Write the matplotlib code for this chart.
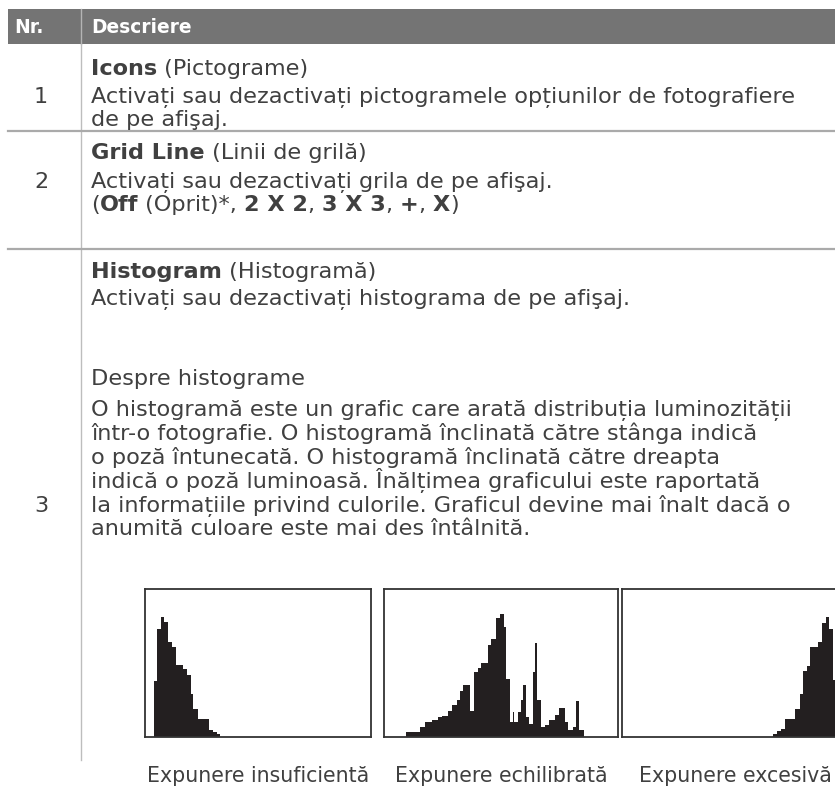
import matplotlib
matplotlib.use("Agg")
import matplotlib.pyplot as plt
from matplotlib.lines import Line2D
from matplotlib.patches import Rectangle

# ---------------- data ----------------
header_labels = ["Nr.", "Descriere"]
row_numbers = ["1", "2", "3"]

row1_lines = [
    [("Icons", True), (" (Pictograme)", False)],
    [("Activați sau dezactivați pictogramele opțiunilor de fotografiere", False)],
    [("de pe afişaj.", False)],
]
row2_lines = [
    [("Grid Line", True), (" (Linii de grilă)", False)],
    [("Activați sau dezactivați grila de pe afişaj.", False)],
    [("(", False), ("Off", True), (" (Oprit)*, ", False), ("2 X 2", True), (", ", False),
     ("3 X 3", True), (", ", False), ("+", True), (", ", False), ("X", True), (")", False)],
]
row3_lines = [
    [("Histogram", True), (" (Histogramă)", False)],
    [("Activați sau dezactivați histograma de pe afişaj.", False)],
    [("Despre histograme", False)],
    [("O histogramă este un grafic care arată distribuția luminozității", False)],
    [("într-o fotografie. O histogramă înclinată către stânga indică", False)],
    [("o poză întunecată. O histogramă înclinată către dreapta", False)],
    [("indică o poză luminoasă. Înălțimea graficului este raportată", False)],
    [("la informațiile privind culorile. Graficul devine mai înalt dacă o", False)],
    [("anumită culoare este mai des întâlnită.", False)],
]

captions = ["Expunere insuficientă", "Expunere echilibrată", "Expunere excesivă"]

# histogram step data: brightness edges (0-255) and relative counts (0-100)
under_edges = [10, 13.5, 17.5, 21, 26, 30.5, 35, 43, 47.5, 52, 54.5, 60, 72, 76.5, 81, 84.5]
under_counts = [38, 73, 81, 78, 64, 61, 48.5, 46, 42, 29, 19, 12.5, 5, 3.5, 2]

balanced_edges = [23.6, 39.2, 44.4, 52.6, 58.8, 63.5, 69.7, 74.4, 79.2, 82.8, 86.4, 93.7,
                  98.1, 102.4, 106.0, 113.3, 116.9, 122.0, 126.4, 130.8, 132.9, 137.3,
                  140.2, 141.7, 146.3, 149.0, 151.8, 154.7, 158.3, 162.7, 164.9, 167.1,
                  170.8, 175.4, 180.1, 186.3, 191.0, 197.2, 200.8, 206.3, 209.2, 212.2, 217.9]
balanced_counts = [3.4, 6.8, 10.2, 11.3, 13.5, 14.2, 17.4, 21.4, 24.8, 30.9, 35.4, 17.4,
                   43.6, 46.3, 49.7, 62.5, 65.9, 80.1, 82.8, 74.5, 39.5, 10.2, 16.9, 10.2,
                   16.9, 24.8, 35.4, 13.5, 9.0, 43.6, 63.2, 24.8, 6.8, 8.4, 11.7, 14.7,
                   19.6, 10.2, 4.5, 6.8, 24.2, 4.5]

over_edges = [170.7, 175.2, 179.0, 183.9, 195.2, 200.8, 204.5, 208.4, 212.1, 220.8,
              225.3, 230.2, 233.9, 238.1, 241.5]
over_counts = [1.8, 3.8, 5.6, 12.4, 18.7, 29.3, 44.5, 48.1, 60.9, 64.3, 77.2, 81.3, 72.7, 38.4]

# ---------------- figure ----------------
W, H, DPI = 835, 787, 100
fig = plt.figure(figsize=(W / DPI, H / DPI), dpi=DPI)
fig.patch.set_facecolor("white")

FONT = ["DejaVu Sans"]
FS_BODY = 16.1
FS_HEAD = 13.4
FS_CAP = 14.8
TXT = "#404040"


def fx(x):
    return x / W


def fy(y):
    return 1 - y / H


renderer = fig.canvas.get_renderer()


def rich(x, y, parts, size=FS_BODY, color=TXT):
    cur = x
    for s, bold in parts:
        t = fig.text(fx(cur), fy(y), s, fontsize=size, fontweight="bold" if bold else "normal",
                     color=color, va="baseline", ha="left", family=FONT)
        bb = t.get_window_extent(renderer)
        cur += bb.width


# header bar
fig.add_artist(Rectangle((fx(8), fy(44)), fx(835) - fx(8), fy(9) - fy(44),
                         transform=fig.transFigure, facecolor="#747474", edgecolor="none"))
fig.add_artist(Line2D([fx(81), fx(81)], [fy(9), fy(44)], transform=fig.transFigure,
                      color="#b4b4b4", lw=1.0))
fig.text(fx(14), fy(33), header_labels[0], fontsize=FS_HEAD, fontweight="bold", color="white",
         va="baseline", ha="left", family=FONT)
fig.text(fx(91), fy(33), header_labels[1], fontsize=FS_HEAD, fontweight="bold", color="white",
         va="baseline", ha="left", family=FONT)

# grid lines
fig.add_artist(Line2D([fx(81), fx(81)], [fy(44), fy(760)], transform=fig.transFigure,
                      color="#bdbdbd", lw=1.0))
for yy in (131, 249):
    fig.add_artist(Line2D([fx(8), fx(835)], [fy(yy), fy(yy)], transform=fig.transFigure,
                          color="#aaaaaa", lw=1.6))

# row numbers
for num, yb in zip(row_numbers, (103, 188, 512)):
    fig.text(fx(41), fy(yb), num, fontsize=FS_BODY, color=TXT, va="baseline", ha="center",
             family=FONT)

# row texts
for parts, yb in zip(row1_lines, (75, 103, 126)):
    rich(91, yb, parts)
for parts, yb in zip(row2_lines, (159, 188, 211)):
    rich(91, yb, parts)
for parts, yb in zip(row3_lines, (278, 305, 385, 416, 440, 464, 488, 512, 535)):
    rich(91, yb, parts)

# histograms
boxes = [(145, 226), (384, 234), (622, 226)]
hists = [(under_edges, under_counts), (balanced_edges, balanced_counts), (over_edges, over_counts)]
for (left, width), (edges, counts), cap in zip(boxes, hists, captions):
    ax = fig.add_axes([fx(left), fy(737), width / W, 148 / H])
    ax.stairs(counts, edges, fill=True, color="#231f20", baseline=0)
    ax.set_xlim(0, 255)
    ax.set_ylim(0, 100)
    ax.set_xticks([])
    ax.set_yticks([])
    for sp in ax.spines.values():
        sp.set_color("#333333")
        sp.set_linewidth(1.3)
    fig.text(fx(left + width / 2), fy(782), cap, fontsize=FS_CAP, color=TXT,
             va="baseline", ha="center", family=FONT)

fig.savefig("out.png", dpi=DPI)
